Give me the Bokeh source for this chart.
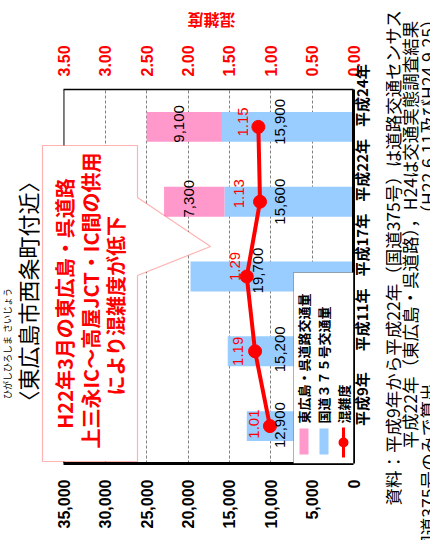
import math
from bokeh.plotting import figure
from bokeh.layouts import row, column
from bokeh.models import (ColumnDataSource, Range1d, FactorRange, LinearAxis, FixedTicker,
                          NumeralTickFormatter, Label, BoxAnnotation, PolyAnnotation, Span)
from bokeh.core.properties import value
from bokeh.embed import file_html
from bokeh.resources import INLINE

# ---------------- data ----------------
years = ["平成9年", "平成11年", "平成17年", "平成22年", "平成24年"]
route375 = [12900, 15200, 19700, 15600, 15900]        # 国道375号交通量
kure_road = [0, 0, 0, 7300, 9100]                     # 東広島・呉道路交通量
congestion = [1.01, 1.19, 1.29, 1.13, 1.15]           # 混雑度
volume_ticks = [0, 5000, 10000, 15000, 20000, 25000, 30000, 35000]
cong_ticks = [0.0, 0.5, 1.0, 1.5, 2.0, 2.5, 3.0, 3.5]
VOL_MAX = 35000
CONG_MAX = 3.5

# ---------------- style / layout ----------------
BLUE = "#99CCFF"
PINK = "#FF99CC"
RED = "#FF0000"
JP = "Noto Sans CJK JP"
NUM = "Liberation Sans"
UP = math.pi / 2
TOP_H = 35            # height of the strip holding the secondary axis title
MAIN_W = 385
FRAME_W = 356         # frame spans x 0..356 (left area used for title / callout)
AXIS_PX = 292         # pixels from 0 to the axis maximum
PAD = FRAME_W / AXIS_PX
# label nudges (screen px)
blue_dx = [-74, -74, -96, -74, -74]
blue_dy = [-1, -2, -6, 0, -5]
cong_dx = [-16, -17, -12, -21, -15]
cong_dy = [-2, 0, -10, -8, -5]

src = ColumnDataSource(dict(
    year=years, route375=route375, kure=kure_road, cong=congestion,
    blue_lbl=[f"{v:,}" for v in route375],
    cong_lbl=[f"{c:.2f}" for c in congestion],
    zero=[0] * len(years), blue_dx=blue_dx, blue_dy=blue_dy,
    cong_dx=cong_dx, cong_dy=cong_dy,
))
pink_idx = [i for i, v in enumerate(kure_road) if v > 0]
pink_src = ColumnDataSource(dict(
    year=[years[i] for i in pink_idx],
    mid=[route375[i] + kure_road[i] / 2 for i in pink_idx],
    lbl=[f"{kure_road[i]:,}" for i in pink_idx],
))

p = figure(width=MAIN_W, height=540 - TOP_H, y_range=FactorRange(*years),
           x_range=Range1d(VOL_MAX * PAD, 0),
           output_backend="svg", toolbar_location=None, y_axis_location="right",
           min_border_left=0, min_border_right=MAIN_W - FRAME_W, min_border_top=89 - TOP_H,
           min_border_bottom=77)
p.background_fill_color = "white"
p.border_fill_color = "white"
p.outline_line_color = None

p.xgrid.ticker = FixedTicker(ticks=volume_ticks[1:-1])
p.xgrid.grid_line_color = "#808080"
p.xgrid.grid_line_dash = "3 2"
p.ygrid.grid_line_color = None

# bars
p.hbar_stack(["route375", "kure"], y="year", height=0.4, color=[BLUE, PINK],
             line_color=None, source=src)

# congestion line on secondary range
p.extra_x_ranges = {"cong": Range1d(CONG_MAX * PAD, 0)}
p.line(x="cong", y="year", x_range_name="cong", line_color=RED, line_width=4, source=src)
p.scatter(x="cong", y="year", x_range_name="cong", size=13, color=RED, source=src)

# data labels
p.text(x="zero", y="year", text="blue_lbl", source=src, angle=UP,
       x_offset="blue_dx", y_offset="blue_dy",
       text_align="center", text_baseline="middle", text_font=value(NUM),
       text_font_size="15px", text_color="black")
p.text(x="mid", y="year", text="lbl", source=pink_src, angle=UP,
       x_offset=-5, y_offset=-3,
       text_align="center", text_baseline="middle", text_font=value(NUM),
       text_font_size="15px", text_color="black")
p.text(x="cong", y="year", text="cong_lbl", source=src, x_range_name="cong", angle=UP,
       x_offset="cong_dx", y_offset="cong_dy",
       text_align="center", text_baseline="middle", text_font=value(NUM),
       text_font_size="15px", text_color=RED)

# axes
xa = p.below[0]
xa.ticker = FixedTicker(ticks=volume_ticks)
xa.bounds = (0, VOL_MAX)
xa.formatter = NumeralTickFormatter(format="0,0")
xa.major_label_orientation = UP
xa.major_label_text_font = NUM
xa.major_label_text_font_style = "bold"
xa.major_label_text_font_size = "16px"
xa.major_label_text_color = "black"
xa.axis_line_width = 3
xa.major_tick_in = 0
xa.major_tick_out = 0
xa.minor_tick_line_color = None
xa.major_label_standoff = 16

ta = LinearAxis(x_range_name="cong", ticker=FixedTicker(ticks=cong_ticks),
                formatter=NumeralTickFormatter(format="0.00"), bounds=(0, CONG_MAX))
ta.major_label_orientation = UP
ta.major_label_text_font = NUM
ta.major_label_text_font_style = "bold"
ta.major_label_text_font_size = "16px"
ta.major_label_text_color = RED
ta.axis_line_width = 1.5
ta.major_tick_in = 0
ta.major_tick_out = 0
ta.minor_tick_line_color = None
ta.major_label_standoff = 13
p.add_layout(ta, "above")

ya = p.right[0]
ya.major_label_orientation = UP
ya.major_label_text_font = JP
ya.major_label_text_font_style = "bold"
ya.major_label_text_font_size = "15px"
ya.major_label_text_color = "black"
ya.axis_line_width = 3
ya.major_tick_in = 0
ya.major_tick_out = 0
ya.major_tick_line_color = None
ya.major_label_standoff = 8

# left border of the plot area at the axis maximum
p.add_layout(Span(location=VOL_MAX, dimension="height", line_color="black", line_width=1))


def add_label(fig, x, y, text, size, color="black", bold=False, angle=UP,
              align="center", font=JP):
    fig.add_layout(Label(x=x, y=y, x_units="canvas", y_units="canvas", text=text,
                         angle=angle, text_align=align, text_baseline="middle",
                         text_font=font, text_font_size=size, text_color=color,
                         text_font_style="bold" if bold else "normal"))


def box(fig, l, r, t, b, color, line=None, radius=0):
    fig.add_layout(BoxAnnotation(left=l, right=r, top=t, bottom=b, border_radius=radius,
                                 left_units="canvas", right_units="canvas",
                                 top_units="canvas", bottom_units="canvas",
                                 fill_color=color, fill_alpha=1,
                                 line_color=line, line_width=1))


oy = TOP_H  # main figure canvas starts TOP_H px down the page

# callout
p.add_layout(PolyAnnotation(
    xs=[42, 137, 137, 210, 137, 137, 42],
    ys=[y - oy for y in (145, 145, 197, 246, 275, 461, 461)],
    xs_units="canvas", ys_units="canvas", fill_color="white", fill_alpha=1,
    line_color=RED, line_width=1.2))
add_label(p, 64, 303 - oy, "H22年3月の東広島・呉道路", "20px", RED, True)
add_label(p, 90, 300 - oy, "上三永IC～高屋JCT・IC間の供用", "20px", RED, True)
add_label(p, 115, 305 - oy, "により混雑度が低下", "20px", RED, True)

# title with reading aids
add_label(p, 26, 291 - oy, "〈東広島市西条町付近〉", "22px")
add_label(p, 7, 367 - oy, "ひがしひろしま", "9px")
add_label(p, 7, 310 - oy, "さいじょう", "9px")

# legend
box(p, 293, 353, 272 - oy, 463 - oy, "white", line="black")
box(p, 299, 308, 428 - oy, 454 - oy, PINK)
box(p, 319, 328, 428 - oy, 454 - oy, BLUE)
box(p, 341.5, 344.5, 427 - oy, 457 - oy, RED)
box(p, 338, 348, 437 - oy, 447 - oy, RED, radius=5)
add_label(p, 303, 423 - oy, "東広島・呉道路交通量", "13px", bold=True, align="left")
add_label(p, 323, 423 - oy, "国道３７５号交通量", "13px", bold=True, align="left")
add_label(p, 343, 423 - oy, "混雑度", "13px", bold=True, align="left")


def blank(w, h):
    f = figure(width=w, height=h, x_axis_type=None, y_axis_type=None,
               output_backend="svg", toolbar_location=None,
               min_border_left=0, min_border_right=0, min_border_top=0, min_border_bottom=0,
               x_range=Range1d(0, 1), y_range=Range1d(0, 1))
    f.outline_line_color = None
    f.grid.visible = False
    f.background_fill_color = "white"
    f.border_fill_color = "white"
    return f


# strip above the chart: secondary axis title (upside down as in the source)
top = blank(MAIN_W, TOP_H)
add_label(top, 211, 20, "混雑度", "16px", RED, True, angle=math.pi)

# notes column on the right
NOTE_X = MAIN_W
notes = blank(430 - MAIN_W, 540)
add_label(notes, 392 - NOTE_X, 505, "資料：平成9年から平成22年（国道375号）は道路交通センサス", "17.5px", align="left")
add_label(notes, 409 - NOTE_X, 448, "平成22年（東広島・呉道路），H24は交通実態調査結果", "17.5px", align="left")
add_label(notes, 427 - NOTE_X, 10, "（H22.6.11及びH24.9.25）", "17.5px", align="right")
add_label(notes, 427 - NOTE_X, 383, "※混雑度算出に用いた交通量は国道375号のみで算出", "17.5px", align="right")

layout = row(column(top, p), notes)
open("out.html", "w").write(file_html(layout, INLINE))
